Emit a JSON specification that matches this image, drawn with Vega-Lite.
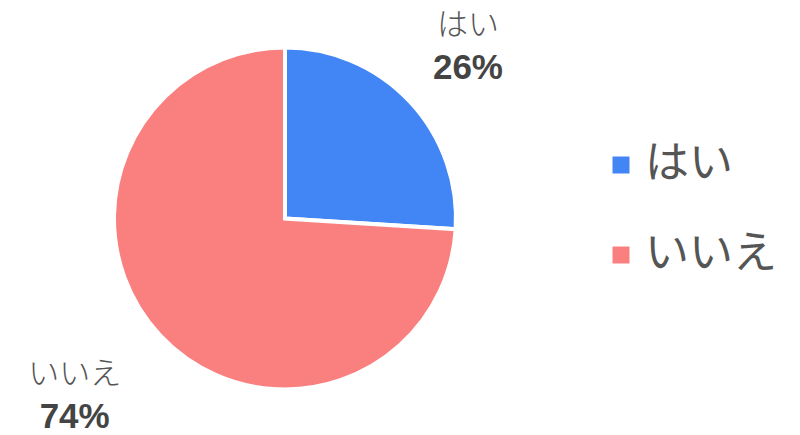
{
  "$schema": "https://vega.github.io/schema/vega-lite/v6.json",
  "width": 570,
  "height": 433,
  "padding": {"top": 2, "left": 0, "right": 0, "bottom": 0},
  "background": "white",
  "config": {"view": {"stroke": null}, "font": "Noto Sans CJK JP"},
  "data": {"values": [
    {"answer": "はい", "pct": 26, "label": "26%", "order": 1},
    {"answer": "いいえ", "pct": 74, "label": "74%", "order": 2}
  ]},
  "encoding": {
    "theta": {"field": "pct", "type": "quantitative", "stack": true},
    "order": {"field": "order", "type": "quantitative"}
  },
  "layer": [
    {
      "mark": {"type": "arc", "outerRadius": 171, "stroke": "white", "strokeWidth": 4},
      "encoding": {
        "color": {
          "field": "answer", "type": "nominal",
          "scale": {"domain": ["はい", "いいえ"], "range": ["#4285f4", "#fa8080"]},
          "legend": {
            "title": null, "orient": "none", "legendX": 599, "legendY": 141,
            "symbolType": "square", "symbolSize": 289, "symbolStrokeWidth": 0,
            "labelFontSize": 44, "labelColor": "#555555", "labelOffset": 2,
            "rowPadding": 46, "labelFont": "Noto Sans CJK JP", "labelLimit": 300
          }
        }
      }
    },
    {
      "mark": {"type": "text", "radius": 251, "dy": -21, "fontSize": 31, "fontWeight": 300, "color": "#555555"},
      "encoding": {"text": {"field": "answer", "condition": {"test": "datum.answer !== 'はい'", "value": ""}}}
    },
    {
      "mark": {"type": "text", "radius": 251, "dy": 21, "fontSize": 35, "fontWeight": "bold", "color": "#444444", "font": "Liberation Sans"},
      "encoding": {"text": {"field": "label", "condition": {"test": "datum.answer !== 'はい'", "value": ""}}}
    },
    {
      "mark": {"type": "text", "radius": 275, "thetaOffset": 0.054, "dy": -21, "fontSize": 31, "fontWeight": 300, "color": "#555555"},
      "encoding": {"text": {"field": "answer", "condition": {"test": "datum.answer !== 'いいえ'", "value": ""}}}
    },
    {
      "mark": {"type": "text", "radius": 275, "thetaOffset": 0.054, "dy": 21, "fontSize": 35, "fontWeight": "bold", "color": "#444444", "font": "Liberation Sans"},
      "encoding": {"text": {"field": "label", "condition": {"test": "datum.answer !== 'いいえ'", "value": ""}}}
    }
  ]
}
